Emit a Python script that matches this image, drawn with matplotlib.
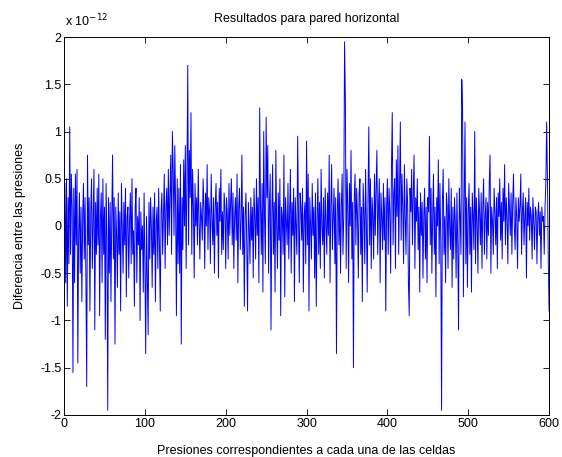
import numpy as np
import matplotlib
matplotlib.use("Agg")
import matplotlib.pyplot as plt
from matplotlib.ticker import FuncFormatter

# pressure differences (units of 1e-12), one value per cell
diff_1_100 = [
    0.45, -0.6, 0.5, -0.85, 0.3, -0.4, 1.05, -0.3, 0.55, 0.2, -1.55, 0.4, -0.6, 0.55, -0.2, 0.6, -1.45, -0.1, 0.35, -0.5,
    0.2, -0.8, 0.1, 0.45, -0.35, 0.3, -0.55, -1.7, 0.75, -0.2, 0.3, -0.9, 0.15, 0.5, -0.45, 0.05, 0.6, -1.1, 0.25, -0.3,
    0.4, -0.2, 0.55, -0.95, 0.1, 0.35, -0.6, 0.5, -0.3, 0.2, -1.2, 0.45, -0.15, -1.95, 0.3, -0.5, 0.25, -0.8, 0.1, 0.75,
    -0.35, 0.3, -1.25, 0.2, -0.1, -0.65, 0.35, -0.3, 0.15, -0.9, 0.45, 0.0, -0.5, 0.25, -0.2, 0.4, -0.75, 0.1, 0.2, -0.55,
    0.05, 0.35, -0.4, 0.5, -0.3, -0.05, -0.85, 0.2, 0.4, -0.6, 0.1, -0.2, 0.3, -1.0, 0.15, -0.25, 0.0, -0.7, 0.35, -0.4,
]
diff_101_200 = [
    -1.35, 0.1, -0.5, -1.15, 0.25, -0.35, 0.3, 0.0, -0.65, 0.2, -0.3, 0.35, -0.8, 0.05, 0.2, -0.45, 0.4, -0.2, -0.9, 0.15,
    0.35, -0.3, 0.1, 0.55, -0.45, 0.2, 0.4, -0.2, 0.6, -0.1, 0.3, 0.75, -0.3, 1.0, 0.6, -0.1, 0.85, 0.2, -0.95, 0.5,
    -0.4, 0.4, -0.5, 0.65, -1.25, 0.3, -0.25, 0.7, 0.0, 0.85, -0.45, 0.45, 1.7, -0.2, 0.8, 0.3, 1.2, -0.3, 0.6, 0.2,
    -0.55, 0.45, 0.0, 0.3, -0.2, 0.6, 0.05, -0.35, 0.25, 0.1, -0.15, 0.5, 0.2, -0.45, 0.35, 0.0, 0.65, -0.25, 0.3, 0.15,
    -0.4, 0.55, 0.1, -0.2, 0.3, -0.5, 0.2, 0.45, -0.1, 0.25, -0.55, 0.4, 0.05, 0.6, -0.3, 0.15, -0.25, 0.35, 0.2, -0.45,
]
diff_201_300 = [
    0.3, 0.1, -0.35, 0.45, -0.1, 0.25, 0.5, -0.2, 0.35, -0.45, 0.1, 0.3, -0.15, 0.55, -0.6, 0.2, 0.4, -0.25, 0.05, 0.75,
    -0.3, 0.2, -0.85, 0.1, 0.35, -0.2, -0.9, 0.25, 0.0, -0.4, 0.3, -0.15, 0.2, -0.55, 0.4, 0.1, -0.35, 0.5, -0.1, 0.3,
    -0.6, 1.25, 0.2, -0.3, 0.45, -0.7, 1.0, 0.1, -0.4, 1.15, 0.3, 0.85, -0.5, 0.2, 0.55, -1.1, 0.1, 0.65, -0.3, 0.25,
    -0.7, 0.8, 0.0, -0.45, 0.35, -0.15, 0.5, -0.95, 0.2, 0.1, -0.3, 0.75, -0.75, 0.3, 0.05, -0.2, 0.45, -0.35, 0.15, 0.6,
    -0.5, 0.25, -0.1, 0.4, -0.8, 0.3, 0.0, -0.3, 0.95, 0.1, -0.6, 0.35, 0.2, -0.15, 0.4, -0.7, 0.1, 0.25, -0.4, 0.9,
]
diff_301_400 = [
    -0.2, 0.55, -0.9, 0.3, 0.0, -0.35, 0.45, -0.1, 0.2, -0.55, 0.35, -0.85, 0.1, 0.5, -0.3, 0.25, -0.45, 0.6, 0.0, -0.2,
    0.3, -0.55, 0.4, 0.05, -0.3, 0.35, -0.1, 0.75, -0.6, 0.2, 0.65, -0.25, 0.1, 0.4, -0.4, 0.3, -1.35, 0.15, 0.5, -0.2,
    0.35, -0.5, 0.2, 0.55, -0.3, 0.1, 1.95, 1.35, -0.45, 0.6, 0.2, -0.6, 0.45, 0.0, 0.8, -0.35, 0.25, -1.5, 0.3, 0.55,
    -0.2, 0.4, 0.1, -0.55, 0.35, 0.5, -0.3, 0.2, -0.8, 0.45, 0.15, -0.4, 0.6, 0.05, -0.7, 0.3, 1.05, -0.2, 0.5, -0.45,
    0.3, 0.1, -0.35, 0.55, -0.1, 0.4, 0.8, -0.3, 0.2, 0.5, -0.6, 0.35, 0.1, -0.25, 0.45, -0.15, 0.3, -0.9, 0.2, 0.5,
]
diff_401_500 = [
    -0.3, 0.4, 0.15, -0.5, 0.6, 1.2, -0.2, 0.35, 0.5, -0.45, 0.7, 0.1, 0.85, -0.3, 0.45, 1.1, -0.15, 0.55, 0.2, -0.4,
    0.65, 0.1, -0.3, 0.5, 0.25, -0.6, -0.95, 0.4, 0.15, 0.6, -0.2, 0.35, 0.75, -0.45, 0.3, 0.05, 0.5, -0.25, 0.2, -0.7,
    0.35, -0.1, 0.25, -0.55, 0.1, 0.4, -0.35, 0.2, -0.6, 0.3, 0.15, 0.95, -0.2, 0.4, -0.5, 0.1, 0.55, -0.3, 0.2, -0.75,
    0.3, 0.0, 0.7, -0.4, 0.45, -0.15, -1.95, 0.25, 0.6, -0.3, 0.1, -0.6, 0.35, 0.2, -0.45, 0.5, 0.0, -0.25, 0.4, -0.65,
    0.2, -0.35, 0.3, 0.05, -0.55, 0.35, -0.2, -1.1, 0.4, 0.1, -0.3, 1.55, 1.2, -0.75, 0.25, 1.1, -0.4, 0.3, -0.65, 0.15,
]
diff_501_600 = [
    0.45, -0.3, 0.2, -0.7, 0.35, 0.1, -0.25, 1.0, -0.4, 0.3, 0.05, -0.5, 0.4, 0.15, -0.2, 0.35, -0.45, 0.2, 0.5, -0.3,
    0.1, 0.3, -0.35, 0.25, -0.1, 0.45, 0.75, -0.5, 0.2, 0.05, -0.3, 0.4, 0.15, -0.2, 0.3, -0.45, 0.35, 0.1, 0.5, -0.15,
    0.25, -0.35, 0.4, 0.05, 0.65, -0.2, 0.3, 0.1, -0.4, 0.45, 0.2, -0.1, 0.35, -0.3, 0.25, 0.55, 0.0, -0.25, 0.3, 0.1,
    -0.45, 0.3, 0.05, 0.2, 0.55, -0.3, 0.15, 0.35, -0.2, 0.1, 0.3, -0.55, 0.25, 0.0, 0.4, -0.15, 0.2, 0.1, -0.35, 0.3,
    0.05, -0.25, 0.2, 0.15, -0.4, 0.1, 0.25, -0.1, 0.15, -0.45, 0.2, 0.05, 0.1, -0.3, 0.2, 0.45, 1.1, 0.5, -0.35, -0.9,
]

SCALE = 1e-12
diff = np.array(diff_1_100 + diff_101_200 + diff_201_300 +
                diff_301_400 + diff_401_500 + diff_501_600) * SCALE
cells = np.arange(1, len(diff) + 1)

x_ticks = [0, 100, 200, 300, 400, 500, 600]
y_ticks = [-2, -1.5, -1, -0.5, 0, 0.5, 1, 1.5, 2]

plt.rcParams.update({
    "font.family": "Liberation Sans",
    "font.size": 9,
    "xtick.direction": "in",
    "ytick.direction": "in",
})

fig = plt.figure(figsize=(5.62, 4.57), dpi=100)
ax = fig.add_axes([0.114, 0.092, 0.863, 0.827])

ax.plot(cells, diff, color="#0000FF", linewidth=0.7)

ax.set_xlim(0, 600)
ax.set_ylim(-2 * SCALE, 2 * SCALE)
ax.set_xticks(x_ticks)
ax.set_yticks([t * SCALE for t in y_ticks])
ax.yaxis.set_major_formatter(FuncFormatter(lambda v, p: f"{v / SCALE:g}"))
ax.tick_params(top=True, right=True, length=4, width=0.6, pad=2)
for s in ax.spines.values():
    s.set_linewidth(0.7)

ax.text(0.002, 1.02, "x 10$^{-12}$", transform=ax.transAxes, ha="left", va="bottom", fontsize=9)

ax.set_title("Resultados para pared horizontal", fontsize=9, pad=11)
ax.set_xlabel("Presiones correspondientes a cada una de las celdas", labelpad=11)
ax.set_ylabel("Diferencia entre las presiones", labelpad=10)

fig.savefig("out.png", dpi=100, facecolor="white")
